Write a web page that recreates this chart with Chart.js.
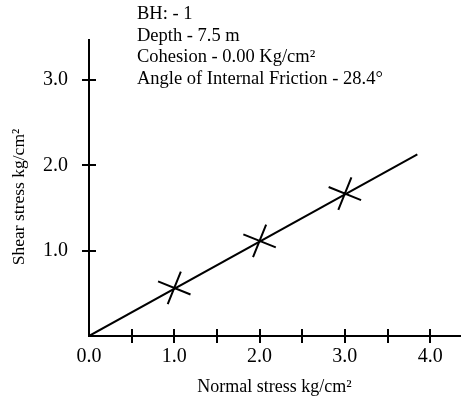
<!DOCTYPE html>
<html>
<head>
<meta charset="utf-8">
<script src="https://cdn.jsdelivr.net/npm/chart.js@4"></script>
<style>
  html, body { margin: 0; padding: 0; background: #fff; overflow: hidden; }
  #wrap { width: 461px; height: 402px; position: relative; }
  #wrap canvas { display: block; }
</style>
</head>
<body>
<div id="wrap"><canvas id="shearChart"></canvas></div>
<script>
// Test points (normal stress, shear stress) in kg/cm²
const normalStress = [1.0, 2.0, 3.0];
const shearStress = [0.563, 1.115, 1.67];

// Failure envelope end points
const envelopeX = [0, 3.85];
const envelopeY = [0, 2.13];

// Axis ticks
const xTicks = [0, 0.5, 1.0, 1.5, 2.0, 2.5, 3.0, 3.5, 4.0];
const yTicks = [1.0, 2.0, 3.0];

const infoLines = [
    'BH: - 1',
    'Depth - 7.5 m',
    'Cohesion - 0.00 Kg/cm²',
    'Angle of Internal Friction - 28.4°'
];
const xTitle = 'Normal stress kg/cm²';
const yTitle = 'Shear stress kg/cm²';

const serif = '"Liberation Serif", "Times New Roman", serif';

// Draw tick marks crossing the axis lines, the info text and the y title
const extrasPlugin = {
    id: 'extras',
    afterDraw(chart) {
        const ctx = chart.ctx;
        const xs = chart.scales.x;
        const ys = chart.scales.y;
        const axisY = ys.getPixelForValue(0);
        const axisX = xs.getPixelForValue(0);
        ctx.save();
        ctx.strokeStyle = '#000';
        ctx.lineWidth = 2;
        ctx.beginPath();
        xTicks.forEach(v => {
            if (v === 0) return;
            const px = Math.round(xs.getPixelForValue(v));
            ctx.moveTo(px, axisY - 7);
            ctx.lineTo(px, axisY + 7);
        });
        yTicks.forEach(v => {
            const py = Math.round(ys.getPixelForValue(v));
            ctx.moveTo(axisX - 7, py);
            ctx.lineTo(axisX + 7, py);
        });
        ctx.stroke();

        ctx.fillStyle = '#000';
        ctx.font = '18.5px ' + serif;
        ctx.textAlign = 'left';
        ctx.textBaseline = 'alphabetic';
        infoLines.forEach((line, i) => {
            ctx.fillText(line, 137, 19 + i * 21.7);
        });

        ctx.translate(19, 197);
        ctx.rotate(-Math.PI / 2);
        ctx.font = '17.5px ' + serif;
        ctx.textAlign = 'center';
        ctx.textBaseline = 'middle';
        ctx.fillText(yTitle, 0, 0);
        ctx.restore();
    }
};

const ctx = document.getElementById('shearChart').getContext('2d');
new Chart(ctx, {
    type: 'scatter',
    data: {
        datasets: [
            {
                type: 'line',
                data: envelopeX.map((x, i) => ({ x: x, y: envelopeY[i] })),
                borderColor: '#000',
                borderWidth: 2,
                pointRadius: 0,
                fill: false
            },
            {
                data: normalStress.map((x, i) => ({ x: x, y: shearStress[i] })),
                pointStyle: 'cross',
                rotation: 22,
                pointRadius: 17.5,
                borderColor: '#000',
                borderWidth: 2
            }
        ]
    },
    options: {
        responsive: true,
        maintainAspectRatio: false,
        animation: false,
        // big cross markers would otherwise pull the right edge in
        layout: { autoPadding: false, padding: { top: 40, right: 1, left: 0, bottom: 0 } },
        plugins: {
            legend: { display: false },
            tooltip: { enabled: false }
        },
        scales: {
            x: {
                type: 'linear',
                min: 0,
                max: 4.35,
                afterBuildTicks: (scale) => { scale.ticks = xTicks.map(v => ({ value: v })); },
                afterFit: (scale) => { scale.height = 66; },
                grid: { display: false, drawTicks: false },
                border: { display: true, color: '#000', width: 2 },
                ticks: {
                    color: '#000',
                    padding: 9,
                    maxRotation: 0,
                    autoSkip: false,
                    font: { family: serif, size: 20 },
                    callback: (v) => (v % 1 === 0 ? v.toFixed(1) : '')
                },
                title: {
                    display: true,
                    text: xTitle,
                    color: '#000',
                    font: { family: serif, size: 18 },
                    padding: { top: 0, bottom: 4 }
                }
            },
            y: {
                type: 'linear',
                min: 0,
                max: 3.47,
                afterBuildTicks: (scale) => { scale.ticks = yTicks.map(v => ({ value: v })); },
                afterFit: (scale) => { scale.width = 89; },
                grid: { display: false, drawTicks: false },
                border: { display: true, color: '#000', width: 2 },
                ticks: {
                    color: '#000',
                    padding: 21,
                    font: { family: serif, size: 20 },
                    callback: (v) => v.toFixed(1)
                }
            }
        }
    },
    plugins: [extrasPlugin]
});
</script>
</body>
</html>
